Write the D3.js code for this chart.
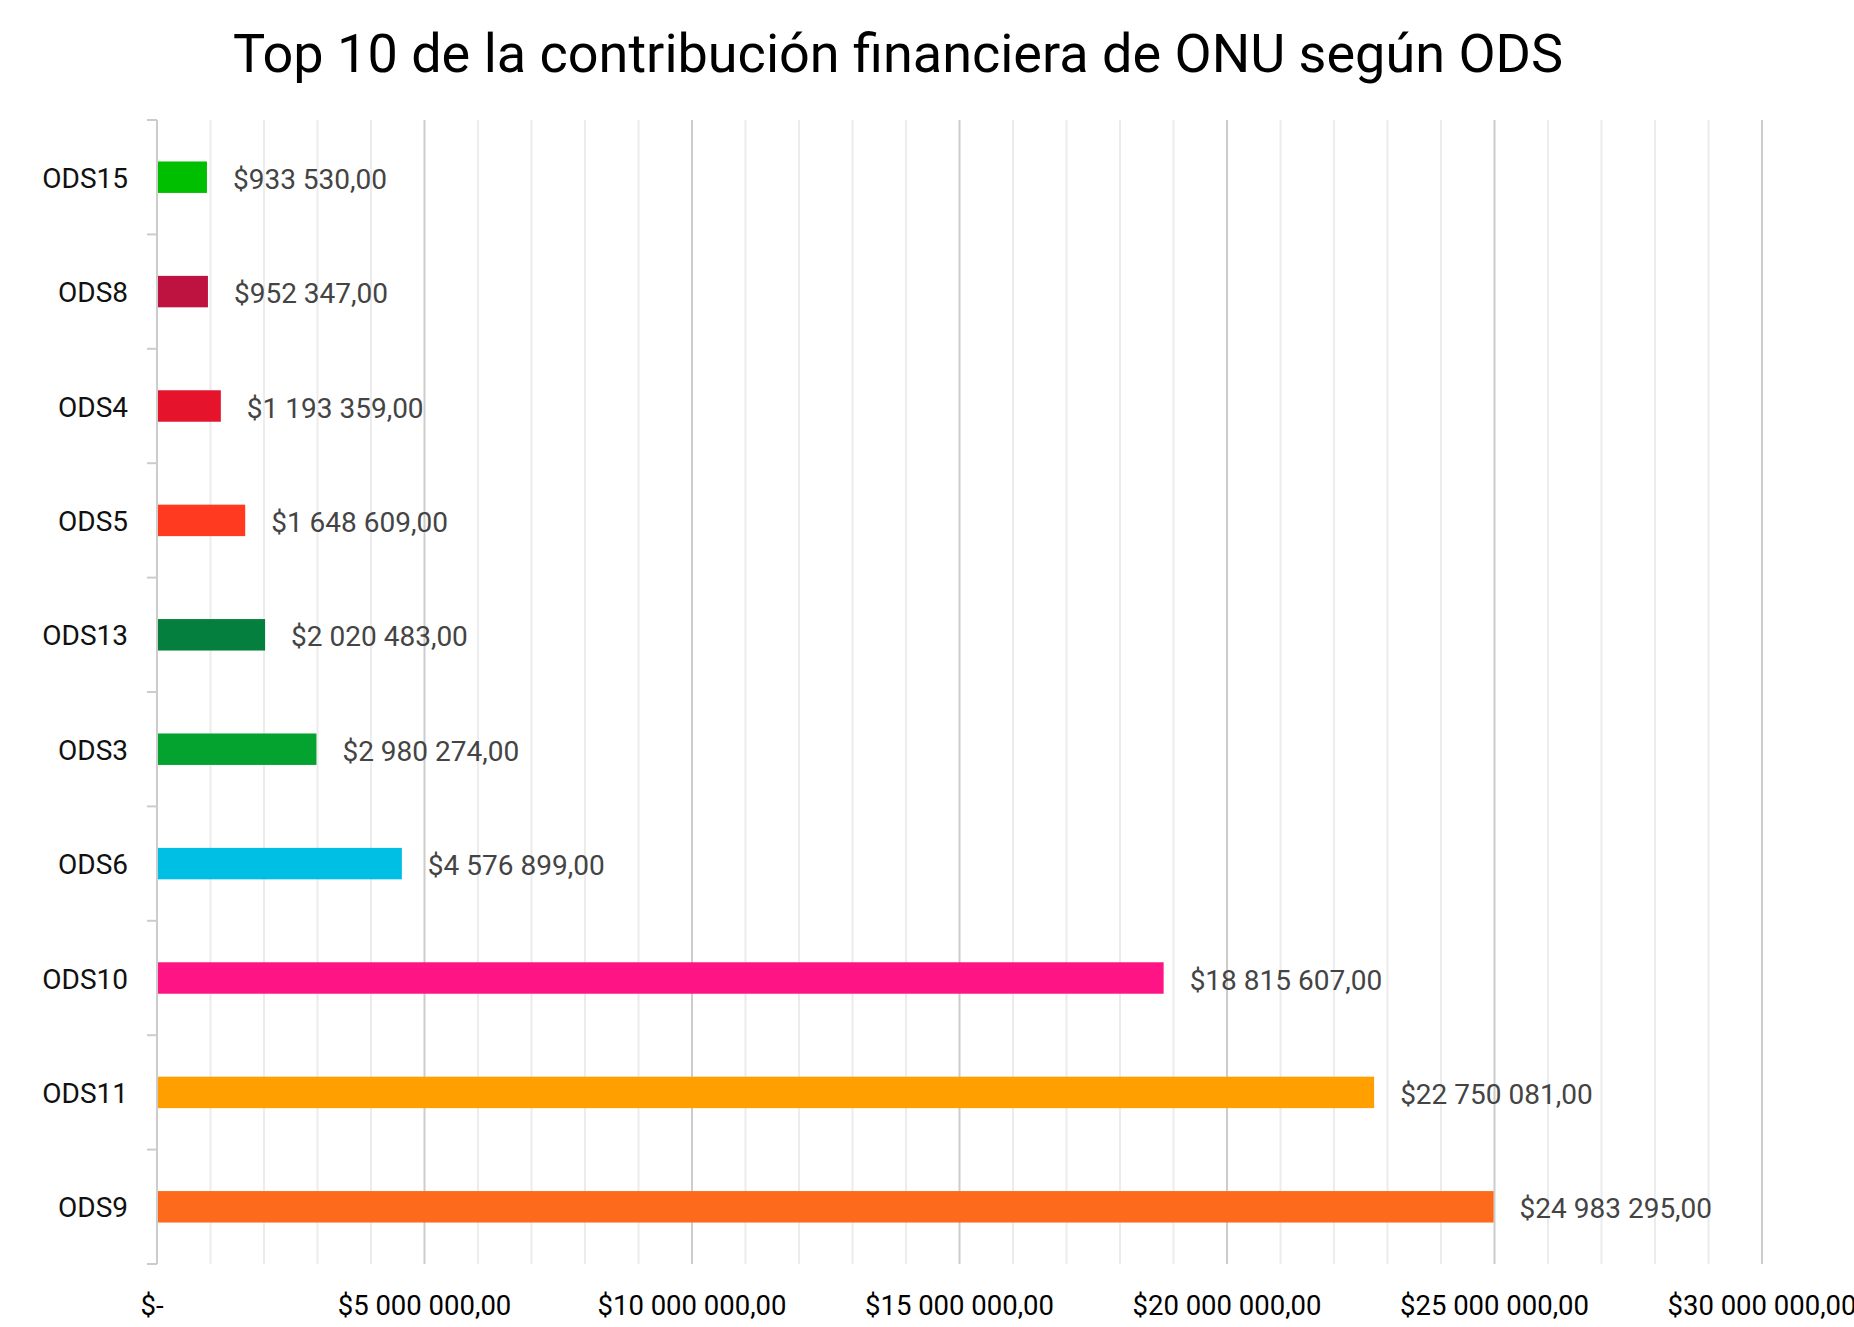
<!DOCTYPE html>
<html>

<head>
    <meta charset="utf-8">
    <title>Top 10 ODS</title>
    <script src="https://d3js.org/d3.v7.min.js"></script>
    <style>
        body {
            margin: 0;
            background: #fff;
            font-family: Roboto, "Noto Sans", sans-serif;
        }

        .title {
            font-size: 54px;
            fill: #000;
            text-anchor: middle;
        }

        .cat-label {
            font-size: 28px;
            fill: #111;
            text-anchor: end;
        }

        .value-label {
            font-size: 28px;
            fill: #444;
        }

        .x-label {
            font-size: 27.5px;
            fill: #000;
            text-anchor: middle;
        }
    </style>
</head>

<body>
    <div id="chart"></div>
    <script>
        // data, top to bottom
        const categories = ["ODS15", "ODS8", "ODS4", "ODS5", "ODS13", "ODS3", "ODS6", "ODS10", "ODS11", "ODS9"];
        const values = [933530, 952347, 1193359, 1648609, 2020483, 2980274, 4576899, 18815607, 22750081, 24983295];
        const barColors = ["#00bf00", "#be1341", "#e5132b", "#ff3a21", "#047f3e", "#04a22f", "#00bfe4", "#ff1485", "#ff9f00", "#fe6a1b"];
        const xTicks = [0, 5000000, 10000000, 15000000, 20000000, 25000000, 30000000];
        const xTickLabels = ["$-", "$5 000 000,00", "$10 000 000,00", "$15 000 000,00", "$20 000 000,00", "$25 000 000,00", "$30 000 000,00"];

        const W = 1854, H = 1327;
        const margin = { top: 120, right: 92, bottom: 63, left: 157 };
        const width = W - margin.left - margin.right,
            height = H - margin.top - margin.bottom;

        // format like 1 193 359,00
        function money(v) {
            const s = Math.round(v).toString().replace(/\B(?=(\d{3})+(?!\d))/g, " ");
            return "$" + s + ",00";
        }

        const svg = d3.select("#chart").append("svg")
            .attr("width", W)
            .attr("height", H);

        svg.append("text")
            .attr("class", "title")
            .attr("x", 898)
            .attr("y", 72)
            .text("Top 10 de la contribución financiera de ONU según ODS");

        const g = svg.append("g")
            .attr("transform", "translate(" + margin.left + "," + margin.top + ")");

        const x = d3.scaleLinear().domain([0, 30000000]).range([0, width]);
        const y = d3.scaleBand().domain(categories).range([0, height]).padding(0);
        const barH = y.bandwidth() * 0.275;

        // minor grid every 1M
        const minor = d3.range(1000000, 30000001, 1000000).filter(v => v % 5000000 !== 0);
        g.append("g").selectAll("line")
            .data(minor)
            .enter().append("line")
            .attr("x1", d => x(d)).attr("x2", d => x(d))
            .attr("y1", 0).attr("y2", height)
            .attr("stroke", "#ececec")
            .attr("stroke-width", 2);

        // major grid
        g.append("g").selectAll("line")
            .data(xTicks.slice(1))
            .enter().append("line")
            .attr("x1", d => x(d)).attr("x2", d => x(d))
            .attr("y1", 0).attr("y2", height)
            .attr("stroke", "#cccccc")
            .attr("stroke-width", 2);

        // left axis with ticks between categories
        const bounds = categories.map(c => y(c)).concat([height]);
        g.append("line")
            .attr("x1", 0).attr("x2", 0)
            .attr("y1", 0).attr("y2", height)
            .attr("stroke", "#cccccc")
            .attr("stroke-width", 2);
        g.append("g").selectAll("line")
            .data(bounds)
            .enter().append("line")
            .attr("x1", -10).attr("x2", 0)
            .attr("y1", d => d).attr("y2", d => d)
            .attr("stroke", "#cccccc")
            .attr("stroke-width", 2);

        // bars
        g.append("g").selectAll("rect")
            .data(categories)
            .enter().append("rect")
            .attr("x", 1)
            .attr("y", d => y(d) + y.bandwidth() / 2 - barH / 2)
            .attr("width", (d, i) => x(values[i]) - 1)
            .attr("height", barH)
            .attr("fill", (d, i) => barColors[i]);

        // value labels
        g.append("g").selectAll("text")
            .data(categories)
            .enter().append("text")
            .attr("class", "value-label")
            .attr("x", (d, i) => x(values[i]) + 26)
            .attr("y", d => y(d) + y.bandwidth() / 2 + 11.5)
            .text((d, i) => money(values[i]));

        // category labels
        g.append("g").selectAll("text")
            .data(categories)
            .enter().append("text")
            .attr("class", "cat-label")
            .attr("x", -29)
            .attr("y", d => y(d) + y.bandwidth() / 2 + 10.5)
            .text(d => d);

        // x axis labels
        g.append("g").selectAll("text")
            .data(xTicks)
            .enter().append("text")
            .attr("class", "x-label")
            .attr("x", d => x(d) - (d === 0 ? 5 : 0))
            .attr("y", height + 51)
            .text((d, i) => xTickLabels[i]);
    </script>
</body>

</html>
